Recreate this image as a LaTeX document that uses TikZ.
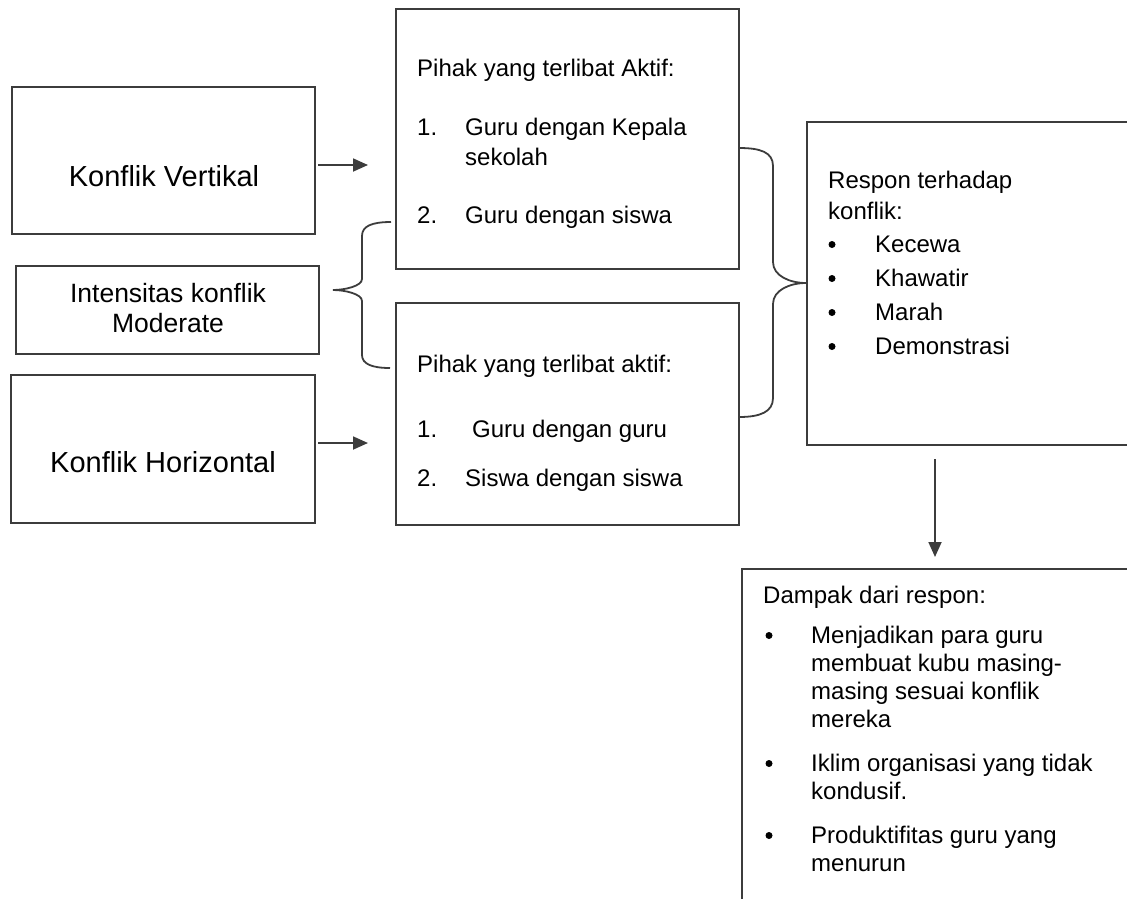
\documentclass[tikz,border=0pt]{standalone}
\usepackage{fontspec}
\setmainfont{Liberation Sans}
\usetikzlibrary{arrows.meta}
\definecolor{lc}{HTML}{3C3C3C}
\begin{document}
\begin{tikzpicture}[x=1pt,y=-1pt,
  box/.style={draw=lc, line width=1.8pt, anchor=north west, inner sep=0pt, outer sep=0pt},
  big/.style={font=\fontsize{29}{34}\selectfont, anchor=base, inner sep=0pt},
  mid/.style={font=\fontsize{26.5}{31}\selectfont, anchor=base, inner sep=0pt},
  txt/.style={font=\fontsize{24}{28}\selectfont, anchor=base west, inner sep=0pt},
  dot/.style={circle, fill=black, inner sep=0pt, minimum size=7pt},
  arr/.style={draw=lc, line width=1.8pt, -{Triangle[length=15pt,width=13pt]}},
  bracestyle/.style={draw=lc, line width=1.8pt}]
\useasboundingbox (0,0) rectangle (1127,898);
\clip (0,0) rectangle (1127,898);

% boxes
\node[box, minimum width=303pt, minimum height=147pt] (v) at (12,87) {};
\node[box, minimum width=303pt, minimum height=88pt] (int) at (16,266) {};
\node[box, minimum width=304pt, minimum height=148pt] (h) at (11,375) {};
\node[box, minimum width=343pt, minimum height=260pt] (p1) at (396,9) {};
\node[box, minimum width=343pt, minimum height=222pt] (p2) at (396,303) {};
\node[box, minimum width=360pt, minimum height=323pt] (r) at (807,122) {};
\node[box, minimum width=420pt, minimum height=360pt] (d) at (742,569) {};

% left texts
\node[big] (tv) at (164,186) {Konflik Vertikal};
\node[mid] (ti1) at (168,302) {Intensitas konflik};
\node[mid] (ti2) at (168,332) {Moderate};
\node[big] (th) at (163,472) {Konflik Horizontal};

% pihak 1
\node[txt] (a0) at (417,76) {Pihak yang terlibat Aktif:};
\node[txt] (a1n) at (417,135) {1.};
\node[txt] (a1) at (465,135) {Guru dengan Kepala};
\node[txt] (a1b) at (465,165) {sekolah};
\node[txt] (a2n) at (417,223) {2.};
\node[txt] (a2) at (465,223) {Guru dengan siswa};

% pihak 2
\node[txt] (b0) at (417,372) {Pihak yang terlibat aktif:};
\node[txt] (b1n) at (417,437) {1.};
\node[txt] (b1) at (472,437) {Guru dengan guru};
\node[txt] (b2n) at (417,486) {2.};
\node[txt] (b2) at (465,486) {Siswa dengan siswa};

% respon
\node[txt] (r0) at (828,188) {Respon terhadap};
\node[txt] (r0b) at (828,219) {konflik:};
\foreach \yy/\tt [count=\i] in {252/Kecewa,286/Khawatir,320/Marah,354/Demonstrasi}{
  \node[dot] (rb\i) at (832,\yy-7.5) {};
  \node[txt] (ri\i) at (875,\yy) {\tt};
}

% dampak
\node[txt] (d0) at (763,603) {Dampak dari respon:};
\node[dot] (db1) at (769,635.5) {};
\node[txt] (d1a) at (811,643) {Menjadikan para guru};
\node[txt] (d1b) at (811,671) {membuat kubu masing-};
\node[txt] (d1c) at (811,699) {masing sesuai konflik};
\node[txt] (d1d) at (811,727) {mereka};
\node[dot] (db2) at (769,763.5) {};
\node[txt] (d2a) at (811,771) {Iklim organisasi yang tidak};
\node[txt] (d2b) at (811,799) {kondusif.};
\node[dot] (db3) at (769,835.5) {};
\node[txt] (d3a) at (811,843) {Produktifitas guru yang};
\node[txt] (d3b) at (811,871) {menurun};

% arrows
\coordinate (va) at (368,165);
\coordinate (ha) at (368,443);
\coordinate (dn) at (935,557);
\draw[arr] (v.east |- va) ++(3,0) -- (va);
\draw[arr] (h.east |- ha) ++(3,0) -- (ha);
\draw[arr] (r.south -| dn) ++(0,14) -- (dn);

% left brace
\draw[bracestyle] (391,222) .. controls (372,222) and (362,226) .. (362,236)
  -- (362,279) .. controls (362,286) and (345,290) .. (333,290)
  .. controls (345,290) and (362,294) .. (362,301)
  -- (362,355) .. controls (362,364) and (372,368) .. (390,368);

% right brace
\draw[bracestyle] (739,148) .. controls (760,148) and (773,152) .. (773,166)
  -- (773,262) .. controls (773,276) and (790,283) .. (806,283)
  .. controls (790,283) and (773,290) .. (773,304)
  -- (773,398) .. controls (773,412) and (760,417) .. (739,417);
\end{tikzpicture}
\end{document}
